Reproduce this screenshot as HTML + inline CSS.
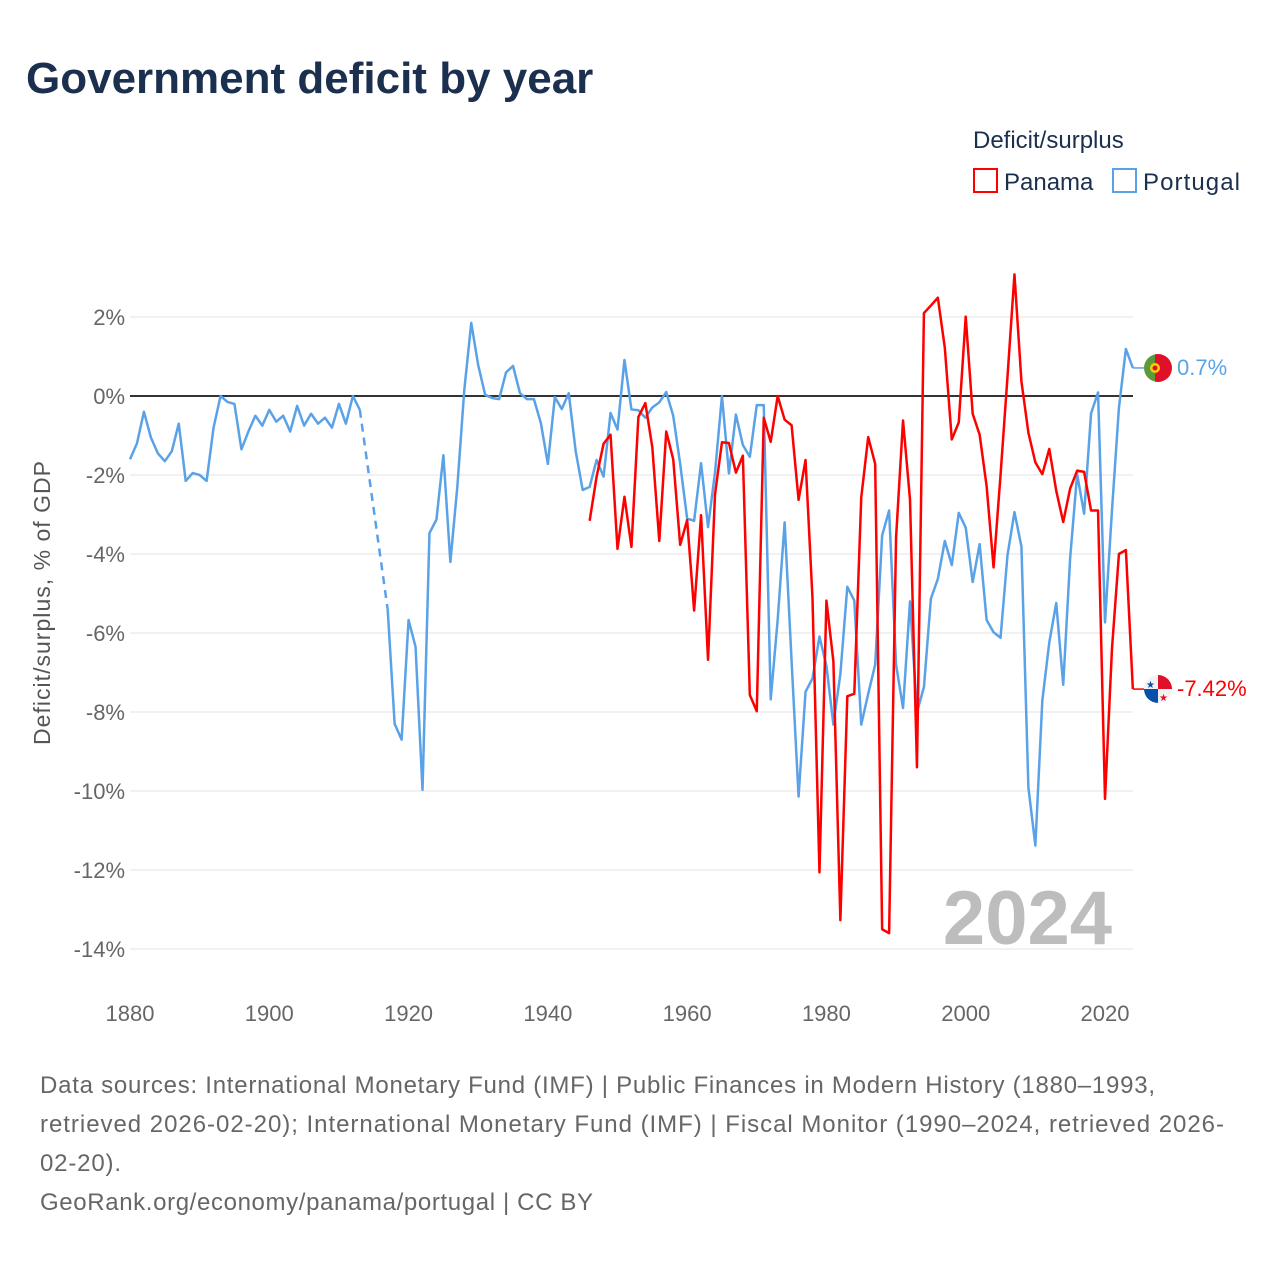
<!DOCTYPE html>
<html><head><meta charset="utf-8">
<style>
body{margin:0;background:#fff;width:1280px;height:1280px;overflow:hidden;font-family:"Liberation Sans",sans-serif;}
svg text{font-family:"Liberation Sans",sans-serif;}
</style></head>
<body>
<svg id="chart" width="1280" height="1280" viewBox="0 0 1280 1280" xmlns="http://www.w3.org/2000/svg">
<text x="26" y="93" font-size="44" font-weight="bold" fill="#1b2f4e">Government deficit by year</text>
<g>
<text x="973" y="148" font-size="24" fill="#1b2f4e">Deficit/surplus</text>
<g><rect x="974" y="169" width="23" height="23" fill="none" stroke="#ff0000" stroke-width="2"/><text x="1004" y="190" font-size="24" fill="#1b2f4e">Panama</text></g>
<g><rect x="1113" y="169" width="23" height="23" fill="none" stroke="#5aa2e8" stroke-width="2"/><text x="1143" y="190" font-size="24" fill="#1b2f4e" textLength="97">Portugal</text></g>
</g>
<text transform="translate(50,603) rotate(-90)" text-anchor="middle" font-size="23" fill="#555" textLength="284">Deficit/surplus, % of GDP</text>
<g id="grid"></g>
<g id="yticks"></g>
<g id="xticks"></g>
<text x="1112" y="944" text-anchor="end" font-size="76" font-weight="bold" fill="#bdbdbd">2024</text>
<line x1="130" x2="1133" y1="396" y2="396" stroke="#333" stroke-width="2"/>
<g id="series"></g>
<g>
<clipPath id="cp1"><circle cx="1158" cy="368" r="14"/></clipPath>
<g clip-path="url(#cp1)"><rect x="1144" y="354" width="11" height="28" fill="#5a9a3a"/><rect x="1155" y="354" width="17" height="28" fill="#e0102a"/><circle cx="1155" cy="368" r="5" fill="#f5d000"/><circle cx="1155" cy="368" r="2.5" fill="#e0102a"/></g>
</g>
<text x="1177" y="375" font-size="22" fill="#5aa2e8">0.7%</text>
<g>
<clipPath id="cp2"><circle cx="1158" cy="689" r="14"/></clipPath>
<g clip-path="url(#cp2)"><rect x="1144" y="675" width="28" height="28" fill="#f2f2f2"/><rect x="1158" y="675" width="14" height="14" fill="#e0102a"/><rect x="1144" y="689" width="14" height="14" fill="#0a4fa8"/><text x="1146" y="688" font-size="10" fill="#0a4fa8">★</text><text x="1159" y="701" font-size="10" fill="#e0102a">★</text></g>
</g>
<text x="1177" y="696" font-size="22" fill="#ff0000">-7.42%</text>
<g font-size="24" fill="#666">
<text x="40" y="1093" textLength="1115">Data sources: International Monetary Fund (IMF) | Public Finances in Modern History (1880–1993,</text>
<text x="40" y="1132" textLength="1184">retrieved 2026-02-20); International Monetary Fund (IMF) | Fiscal Monitor (1990–2024, retrieved 2026-</text>
<text x="40" y="1171" textLength="81">02-20).</text>
<text x="40" y="1210" textLength="553">GeoRank.org/economy/panama/portugal | CC BY</text>
</g>
</svg>
<script>
const yTicks=[2,0,-2,-4,-6,-8,-10,-12,-14];
const xTicks=[1880,1900,1920,1940,1960,1980,2000,2020];
const portugalStart=1880;
const portugal=[-1.6,-1.2,-0.4,-1.05,-1.45,-1.65,-1.4,-0.7,-2.15,-1.95,-2.0,-2.15,-0.8,0,-0.15,-0.2,-1.35,-0.9,-0.5,-0.75,
-0.35,-0.65,-0.5,-0.9,-0.25,-0.75,-0.45,-0.7,-0.55,-0.8,-0.2,-0.7,0,-0.35,null,null,null,-5.4,-8.3,-8.7,
-5.67,-6.35,-9.97,-3.47,-3.13,-1.5,-4.2,-2.3,0.15,1.85,0.78,0.03,-0.05,-0.08,0.6,0.76,0.07,-0.08,-0.08,-0.69,
-1.72,-0.03,-0.33,0.07,-1.4,-2.38,-2.3,-1.62,-2.04,-0.43,-0.85,0.91,-0.34,-0.36,-0.55,-0.29,-0.16,0.1,-0.5,-1.72,
-3.1,-3.16,-1.7,-3.32,-1.94,0,-1.96,-0.47,-1.24,-1.54,-0.23,-0.23,-7.68,-5.66,-3.2,-6.72,-10.14,-7.49,-7.15,-6.09,
-6.83,-8.32,-7.04,-4.83,-5.18,-8.32,-7.54,-6.8,-3.53,-2.9,-6.8,-7.9,-5.2,-8.0,-7.37,-5.13,-4.63,-3.67,-4.28,-2.96,
-3.33,-4.71,-3.75,-5.67,-5.98,-6.12,-4.03,-2.94,-3.81,-9.91,-11.38,-7.71,-6.24,-5.24,-7.31,-4.09,-1.98,-2.98,-0.44,0.09,
-5.73,-2.9,-0.3,1.19,0.71];
const panamaStart=1946;
const panama=[-3.16,-2.04,-1.21,-0.98,-3.87,-2.55,-3.82,-0.53,-0.18,-1.3,-3.67,-0.9,-1.6,-3.77,
-3.14,-5.43,-3.02,-6.68,-2.49,-1.17,-1.19,-1.94,-1.51,-7.57,-7.98,-0.55,-1.16,0,-0.6,-0.74,-2.63,-1.62,-5.13,-12.06,
-5.18,-6.72,-13.27,-7.6,-7.54,-2.57,-1.04,-1.72,-13.5,-13.6,-3.58,-0.62,-2.62,-9.4,2.1,2.29,2.49,1.22,-1.1,-0.67,
2.01,-0.45,-0.98,-2.28,-4.34,-2.0,0.49,3.08,0.37,-0.93,-1.68,-1.98,-1.34,-2.4,-3.19,-2.34,-1.89,-1.92,-2.9,-2.9,
-10.2,-6.4,-4.0,-3.9,-7.42];

const NS='http://www.w3.org/2000/svg';
const X=yr=>130+(yr-1880)*975/140;
const Y=v=>396-v*39.5;
function mk(tag,attrs,parent){const e=document.createElementNS(NS,tag);for(const k in attrs)e.setAttribute(k,attrs[k]);parent.appendChild(e);return e;}
const grid=document.getElementById('grid'),yt=document.getElementById('yticks'),xt=document.getElementById('xticks'),ser=document.getElementById('series');
yTicks.forEach(v=>{
 const l=mk('line',{x1:130,x2:1133,y1:Y(v),y2:Y(v),stroke:'#e3e3e3','stroke-width':1},grid);
 
 
 const t=mk('text',{x:125,y:Y(v)+8,'text-anchor':'end','font-size':22,fill:'#666'},yt);
 
 
 t.textContent=v+'%';
});
xTicks.forEach(yr=>{
 const t=mk('text',{x:X(yr),y:1021,'text-anchor':'middle','font-size':22,fill:'#666'},xt);
 
 
 t.textContent=yr;
});
function draw(arr,start,color,name){
 let segs=[],cur=[],gaps=[],last=null;
 arr.forEach((v,i)=>{
  const yr=start+i;
  if(v===null){if(cur.length){segs.push(cur);cur=[];}return;}
  if(last&&last.yr!==yr-1)gaps.push([last,{yr,v}]);
  cur.push([X(yr),Y(v)]);last={yr,v};
 });
 if(cur.length)segs.push(cur);
 segs.forEach(s=>{
  const p=mk('polyline',{points:s.map(q=>q.join(',')).join(' '),fill:'none',stroke:color,'stroke-width':2.5,'stroke-linejoin':'round'},ser);
  
  
 });
 gaps.forEach(g=>{
  const d=mk('line',{x1:X(g[0].yr),y1:Y(g[0].v),x2:X(g[1].yr),y2:Y(g[1].v),stroke:color,'stroke-width':2.5,'stroke-dasharray':'8,6'},ser);
  
  
 });
 const lv=arr[arr.length-1],ly=start+arr.length-1;
 const e=mk('line',{x1:X(ly),y1:Y(lv),x2:1144,y2:Y(lv),stroke:color,'stroke-width':1.5},ser);
 
 
}
draw(portugal,portugalStart,'#5aa2e8','portugal');
draw(panama,panamaStart,'#ff0000','panama');
</script>
</body></html>
